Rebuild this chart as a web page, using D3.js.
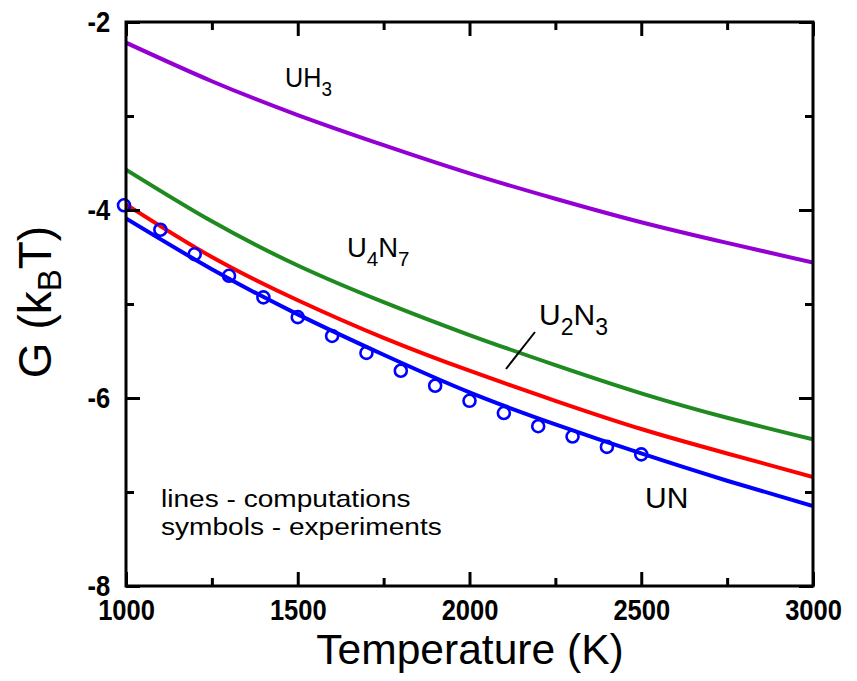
<!DOCTYPE html>
<html>
<head>
<meta charset="utf-8">
<script src="https://cdn.jsdelivr.net/npm/d3@7"></script>
<style>
  html, body { margin: 0; padding: 0; background: #fff; }
  svg { display: block; font-family: "Liberation Sans", Arial, Helvetica, sans-serif; }
</style>
</head>
<body>
<svg id="chart" width="857" height="681"></svg>
<script>
// ---------------- data ----------------
const temps = [1000, 1250, 1500, 1750, 2000, 2250, 2500, 2750, 3000];
const gUH3  = [-2.22, -2.63, -2.99, -3.31, -3.61, -3.88, -4.13, -4.35, -4.56];
const gU4N7 = [-3.57, -4.12, -4.59, -4.98, -5.33, -5.65, -5.95, -6.21, -6.44];
const gU2N3 = [-3.94, -4.50, -4.96, -5.36, -5.71, -6.03, -6.33, -6.59, -6.84];
const gUN   = [-4.09, -4.63, -5.11, -5.54, -5.94, -6.28, -6.59, -6.88, -7.15];

const expTemps = [1000, 1100, 1200, 1300, 1400, 1500, 1600, 1700, 1800, 1900, 2000, 2100, 2200, 2300, 2400, 2500];
const expUN    = [-3.95, -4.21, -4.47, -4.70, -4.93, -5.14, -5.34, -5.52, -5.71, -5.87, -6.03, -6.16, -6.30, -6.41, -6.52, -6.60];

const xMajorTicks = [1000, 1500, 2000, 2500, 3000];
const xMinorTicks = [1250, 1750, 2250, 2750];
const yMajorTicks = [-2, -4, -6, -8];
const yMinorTicks = [-3, -5, -7];

const seriesNames  = ["UH3", "U4N7", "U2N3", "UN"];
const seriesColors = ["#9400d3", "#1f8a1f", "#ff0000", "#0000ff"];
const seriesValues = [gUH3, gU4N7, gU2N3, gUN];

// ---------------- layout ----------------
const L = 126, R = 813, T = 22, B = 586;
const svg = d3.select("#chart");
const x = d3.scaleLinear().domain([1000, 3000]).range([L, R]);
const y = d3.scaleLinear().domain([-8, -2]).range([B, T]);

// lines
const line = d3.line().x(d => x(d[0])).y(d => y(d[1])).curve(d3.curveNatural);
svg.append("clipPath").attr("id", "clip")
  .append("rect").attr("x", L).attr("y", T).attr("width", R - L).attr("height", B - T);
seriesValues.forEach((vals, i) => {
  svg.append("path")
    .datum(temps.map((t, j) => [t, vals[j]]))
    .attr("d", line)
    .attr("fill", "none")
    .attr("stroke", seriesColors[i])
    .attr("stroke-width", 4)
    .attr("clip-path", "url(#clip)");
});

// experimental symbols
svg.append("g").selectAll("circle")
  .data(expTemps.map((t, j) => [t, expUN[j]]))
  .join("circle")
  .attr("cx", d => x(d[0]) - (d[0] === 1000 ? 2 : 0))
  .attr("cy", d => y(d[1]))
  .attr("r", 6)
  .attr("fill", "none")
  .attr("stroke", "#0000ff")
  .attr("stroke-width", 2.6);

// ---------------- axes ----------------
function styleAxis(g) {
  g.select(".domain").remove();
  g.selectAll(".tick line").attr("stroke", "#000").attr("stroke-width", 3);
}
const noLab = () => "";
svg.append("g").attr("transform", `translate(0,${B})`)
  .call(d3.axisBottom(x).tickValues(xMajorTicks).tickSize(-14).tickSizeOuter(0).tickPadding(13).tickFormat(d => String(d)))
  .call(styleAxis)
  .call(g => g.selectAll("text")
     .attr("font-size", 29).attr("font-weight", "bold").attr("fill", "#000")
     .attr("font-family", "'Liberation Sans', Arial, sans-serif")
     .attr("transform", "scale(0.88,1)"));
svg.append("g").attr("transform", `translate(0,${B})`)
  .call(d3.axisBottom(x).tickValues(xMinorTicks).tickSize(-8).tickSizeOuter(0).tickFormat(noLab)).call(styleAxis);
svg.append("g").attr("transform", `translate(0,${T})`)
  .call(d3.axisTop(x).tickValues(xMajorTicks).tickSize(-14).tickSizeOuter(0).tickFormat(noLab)).call(styleAxis);
svg.append("g").attr("transform", `translate(0,${T})`)
  .call(d3.axisTop(x).tickValues(xMinorTicks).tickSize(-8).tickSizeOuter(0).tickFormat(noLab)).call(styleAxis);

svg.append("g").attr("transform", `translate(${L},0)`)
  .call(d3.axisLeft(y).tickValues(yMajorTicks).tickSize(-14).tickSizeOuter(0).tickPadding(18).tickFormat(d => String(d)))
  .call(styleAxis)
  .call(g => g.selectAll("text")
     .attr("font-size", 29).attr("font-weight", "bold").attr("fill", "#000")
     .attr("font-family", "'Liberation Sans', Arial, sans-serif")
     .attr("transform", "scale(0.88,1)"));
svg.append("g").attr("transform", `translate(${L},0)`)
  .call(d3.axisLeft(y).tickValues(yMinorTicks).tickSize(-8).tickSizeOuter(0).tickFormat(noLab)).call(styleAxis);
svg.append("g").attr("transform", `translate(${R},0)`)
  .call(d3.axisRight(y).tickValues(yMajorTicks).tickSize(-14).tickSizeOuter(0).tickFormat(noLab)).call(styleAxis);
svg.append("g").attr("transform", `translate(${R},0)`)
  .call(d3.axisRight(y).tickValues(yMinorTicks).tickSize(-8).tickSizeOuter(0).tickFormat(noLab)).call(styleAxis);

// frame
svg.append("rect").attr("x", L).attr("y", T).attr("width", R - L).attr("height", B - T)
  .attr("fill", "none").attr("stroke", "#000").attr("stroke-width", 3);

// ---------------- titles ----------------
svg.append("text").attr("transform", "translate(470,664) scale(0.99,1)")
  .attr("text-anchor", "middle").attr("font-size", 43).attr("fill", "#000")
  .text("Temperature (K)");

const yl = svg.append("text").attr("transform", "translate(51,302) rotate(-90)")
  .attr("text-anchor", "middle").attr("font-size", 46).attr("fill", "#000");
yl.append("tspan").text("G (k");
yl.append("tspan").attr("font-size", 33).attr("dy", 10).text("B");
yl.append("tspan").attr("dy", -10).text("T)");

// series labels with subscripts
function formula(xp, yp, size, sx, parts) {
  const t = svg.append("text").attr("transform", `translate(${xp},${yp}) scale(${sx},1)`)
    .attr("font-size", size).attr("fill", "#000");
  let shifted = false;
  const sub = Math.round(size * 0.75), off = Math.round(size * 0.32);
  parts.forEach(p => {
    const sp = t.append("tspan").text(p.s);
    if (p.sub) { sp.attr("font-size", sub).attr("dy", shifted ? 0 : off); shifted = true; }
    else { sp.attr("dy", shifted ? -off : 0); shifted = false; }
  });
}
formula(285, 87, 28, 0.9, [{s: "UH"}, {s: "3", sub: true}]);
formula(347, 257, 28, 0.98, [{s: "U"}, {s: "4", sub: true}, {s: "N"}, {s: "7", sub: true}]);
formula(539, 325, 30, 1.0, [{s: "U"}, {s: "2", sub: true}, {s: "N"}, {s: "3", sub: true}]);
formula(645, 508, 30, 1.0, [{s: "UN"}]);

// leader line for U2N3
svg.append("line").attr("x1", 535).attr("y1", 332).attr("x2", 506).attr("y2", 369)
  .attr("stroke", "#000").attr("stroke-width", 2);

// note
const note = svg.append("g").attr("transform", "translate(161,0) scale(1.17,1)");
note.append("text").attr("x", 0).attr("y", 507).attr("font-size", 24).attr("fill", "#000")
  .text("lines - computations");
note.append("text").attr("x", 0).attr("y", 535).attr("font-size", 24).attr("fill", "#000")
  .text("symbols - experiments");
</script>
</body>
</html>
